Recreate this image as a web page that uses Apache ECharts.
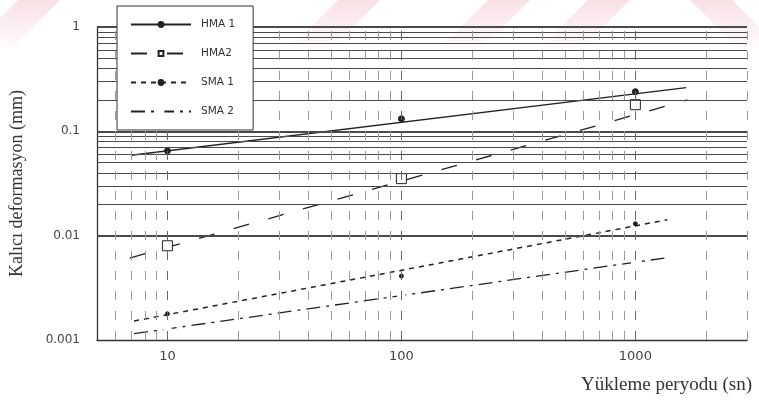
<!DOCTYPE html>
<html>
<head>
<meta charset="utf-8">
<script src="https://cdn.jsdelivr.net/npm/echarts@6/dist/echarts.min.js"></script>
<style>
  html, body { margin: 0; padding: 0; background: #fff; }
  #chart { width: 759px; height: 409px; }
</style>
</head>
<body>
<div id="chart"></div>
<script>
// Loading periods (s) where the tests were measured
const periods = [10, 100, 1000];
const xTickLabels = ['10', '100', '1000'];
const yTickLabels = ['0.001', '0.01', '0.1', '1'];
const seriesNames = ['HMA 1', 'HMA2', 'SMA 1', 'SMA 2'];

// Measured permanent deformation (mm)
const hma1 = [0.065, 0.132, 0.24];
const hma2 = [0.008, 0.0352, 0.18];
const sma1 = [0.00178, 0.0041, 0.013];
const sma2 = [0.00131, 0.00259, 0.00562];

// Fitted power-law trend lines: [period, deformation] end points
const hma1Fit = [[7, 0.059], [1650, 0.262]];
const hma2Fit = [[6.9, 0.0061], [1670, 0.2]];
const sma1Fit = [[7.2, 0.00152], [1370, 0.0142]];
const sma2Fit = [[7.2, 0.00115], [1330, 0.0061]];

// Log-paper grid values (1..9 per decade)
const mantissas = [1, 2, 3, 4, 5, 6, 7, 8, 9];
const yGrid = [];
for (let e = -3; e < 0; e++) {
  mantissas.forEach(m => yGrid.push(+(m * Math.pow(10, e)).toPrecision(3)));
}
yGrid.push(1);
const xGrid = [];
for (let e = 0; e < 4; e++) {
  mantissas.forEach(m => {
    const v = m * Math.pow(10, e);
    if (v > 5 && v <= 3000) xGrid.push(v);
  });
}

const isDecade = v => Math.abs(Math.log10(v) - Math.round(Math.log10(v))) < 1e-6;
const labelFor = (labels, v) => {
  if (!isDecade(v)) return '';
  const s = labels.find(l => Math.abs(Math.log10(+l) - Math.log10(v)) < 1e-6);
  return s || '';
};

const ink = '#222';
const tickFont = 'DejaVu Sans';

const gridLines = [];
yGrid.forEach(v => gridLines.push({
  yAxis: v,
  lineStyle: { color: '#4a4a4a', width: isDecade(v) ? 1.8 : 1, type: 'solid' }
}));
xGrid.forEach(v => gridLines.push({
  xAxis: v,
  lineStyle: { color: isDecade(v) ? '#666' : '#9a9a9a', width: 1, type: [9, 11] }
}));

const fitSeries = (name, data, symbol, size, dash, width, fill) => ({
  type: 'line',
  name: name,
  data: data,
  showSymbol: false,
  symbol: symbol,
  symbolSize: size,
  lineStyle: { color: ink, width: width, type: dash },
  itemStyle: { color: fill, borderColor: ink, borderWidth: 1 },
  silent: true,
  z: 3
});
const pointSeries = (name, values, symbol, size, fill) => ({
  type: 'scatter',
  name: name,
  data: periods.map((p, i) => [p, values[i]]),
  symbol: symbol,
  symbolSize: size,
  itemStyle: { color: fill, borderColor: ink, borderWidth: 1, opacity: 1 },
  silent: true,
  z: 4
});

// Faint diagonal stripes across the top of the page
const stripe = (x0, dir) => {
  const w = 42, h = 48;
  const pts = dir > 0
    ? [[x0, h], [x0 + w, h], [x0 + w + h, 0], [x0 + h, 0]]
    : [[x0, 0], [x0 + w, 0], [x0 + w + h, h], [x0 + h, h]];
  return {
    type: 'polygon',
    shape: { points: pts },
    style: {
      fill: {
        type: 'linear', x: 0, y: 0, x2: 0, y2: 1,
        colorStops: [{ offset: 0, color: 'rgba(236,160,175,0.32)' }, { offset: 1, color: 'rgba(236,160,175,0.04)' }]
      }
    },
    z: 0,
    silent: true
  };
};

const chart = echarts.init(document.getElementById('chart'), null, { renderer: 'canvas' });
chart.setOption({
  animation: false,
  backgroundColor: '#fff',
  graphic: [stripe(-30, 1), stripe(290, 1), stripe(440, 1), stripe(540, 1), stripe(690, -1)],
  grid: { left: 95, right: 12, top: 27, bottom: 69 },
  legend: {
    data: seriesNames,
    orient: 'vertical',
    left: 117,
    top: 6,
    padding: [13, 18, 13, 13],
    itemGap: 18,
    itemWidth: 60,
    itemHeight: 6,
    backgroundColor: '#fff',
    borderColor: '#333',
    borderWidth: 1,
    selectedMode: false,
    textStyle: { fontFamily: tickFont, fontSize: 10.5, color: '#333', padding: [0, 0, 0, 5] },
    z: 10
  },
  xAxis: {
    type: 'log',
    logBase: 10,
    min: 5,
    max: 3000,
    name: 'Yükleme peryodu (sn)',
    nameLocation: 'end',
    nameGap: 5,
    nameTextStyle: {
      fontFamily: 'Liberation Serif', fontSize: 19, color: '#333',
      align: 'right', verticalAlign: 'top', padding: [36, 0, 0, 0]
    },
    axisLine: { show: true, lineStyle: { color: '#333', width: 1.3 } },
    axisTick: { show: false },
    splitLine: { show: false },
    axisLabel: {
      formatter: v => labelFor(xTickLabels, v),
      fontFamily: tickFont, fontSize: 13, color: '#444', margin: 10
    }
  },
  yAxis: {
    type: 'log',
    logBase: 10,
    min: 0.001,
    max: 1,
    name: 'Kalıcı deformasyon (mm)',
    nameLocation: 'middle',
    nameGap: 71,
    nameTextStyle: { fontFamily: 'Liberation Serif', fontSize: 18, color: '#333' },
    axisLine: { show: true, lineStyle: { color: '#333', width: 1.3 } },
    axisTick: { show: false },
    splitLine: { show: false },
    axisLabel: {
      formatter: v => labelFor(yTickLabels, v),
      fontFamily: tickFont, fontSize: 12, color: '#444', margin: 17
    }
  },
  series: [
    {
      type: 'line',
      data: [],
      silent: true,
      z: 1,
      markLine: {
        silent: true,
        symbol: ['none', 'none'],
        label: { show: false },
        emphasis: { disabled: true },
        data: gridLines
      }
    },
    fitSeries('HMA 1', hma1Fit, 'circle', 5, 'solid', 1.3, ink),
    fitSeries('HMA2', hma2Fit, 'rect', 8, [16, 20], 1.3, '#fff'),
    fitSeries('SMA 1', sma1Fit, 'circle', 4, [5, 5], 1.5, ink),
    fitSeries('SMA 2', sma2Fit, 'emptyCircle', 6, [14, 6, 3, 6], 1.3, '#fff'),
    pointSeries('HMA 1', hma1, 'circle', 6, ink),
    pointSeries('HMA2', hma2, 'rect', 10, '#fff'),
    pointSeries('SMA 1', sma1, 'circle', 4, ink),
    pointSeries('SMA 2', sma2, 'emptyCircle', 7, '#fff')
  ]
});
</script>
</body>
</html>
